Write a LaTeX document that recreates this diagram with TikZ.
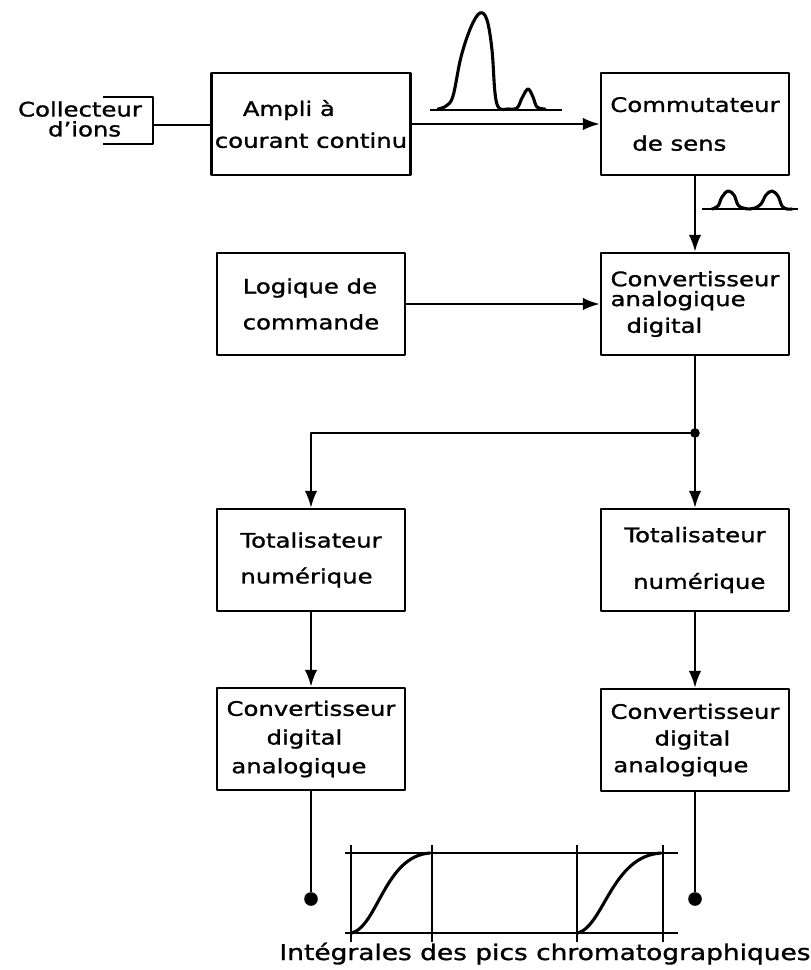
\documentclass[tikz,border=0pt]{standalone}
\usepackage{fontspec}
\setmainfont[FakeStretch=1.22, FakeBold=1.3]{DejaVu Sans}
\usetikzlibrary{arrows.meta}
\newcommand{\lettre}{\fontsize{14.2}{17}\selectfont}

\begin{document}
\begin{tikzpicture}[x=0.25mm, y=-0.25mm, line join=round,
  box/.style={draw, line width=1.8pt, minimum width=47mm, minimum height=25.5mm, inner xsep=0.8mm, align=left, font=\lettre},
  lien/.style={line width=1.5pt},
  fleche/.style={lien, -{Latex[length=4.2mm, width=3.1mm]}},
  courbe/.style={line width=2.2pt, line cap=round},
  trait/.style={line width=1pt},
  point/.style={circle, fill, inner sep=0pt, minimum size=3.4mm}]
  \useasboundingbox (0,0) rectangle (811,970);

  % entree
  \node[font=\lettre, align=left, inner sep=0pt] (ions) at (80,119) {Collecteur\\[-1mm]\hspace*{7.5mm}d'ions};
  \draw[lien, line width=1.8pt] (103,97) -| (153,144) -- (103,144);
  \coordinate (ionsport) at (153,125);

  \node[box] (ampli) at (311,124) {\hspace*{7mm}Ampli à\\[2mm]courant continu};
  \node[box] (commut) at (695,124) {Commutateur\\[3.7mm]\hspace*{5.5mm}de sens};
  \node[box] (logique) at (311,304) {Logique de\\[3mm]commande};
  \node[box] (adc) at (695,304) {Convertisseur\\[-1mm]analogique\\[0.7mm]\hspace*{4mm}digital};
  \node[box] (totg) at (311,560) {Totalisateur\\[3mm]numérique};
  \node[box] (totd) at (695,560) {Totalisateur\\[5.7mm]\hspace*{2.2mm}numérique};
  \node[box] (cdag) at (311,739) {Convertisseur\\[1.2mm]\hspace*{10mm}digital\\[1.2mm]\hspace*{1.2mm}analogique};
  \node[box] (cdad) at (695,740) {Convertisseur\\[0.7mm]\hspace*{11mm}digital\\[0.7mm]\hspace*{0.7mm}analogique};

  \draw[lien] (ionsport) -- (ionsport -| ampli.west);
  \draw[fleche] (ampli) -- (commut);
  \draw[fleche] (commut) -- (adc);
  \draw[fleche] (logique) -- (adc);

  % distribution
  \coordinate (jonction) at (695,433);
  \draw[lien] (adc) -- (jonction);
  \node[point, minimum size=2.4mm] (jpt) at (jonction) {};
  \draw[fleche] (jonction) -- (totd);
  \draw[fleche] (jonction) -| (totg);
  \draw[fleche] (totg) -- (cdag);
  \draw[fleche] (totd) -- (cdad);

  \node[point] (sortieg) at (311,899) {};
  \node[point] (sortied) at (695,899) {};
  \draw[lien] (cdag) -- (sortieg);
  \draw[lien] (cdad) -- (sortied);

  % pics chromatographiques
  \draw[trait] (430,110) -- (562,110);
  \draw[courbe] plot[smooth, tension=0.6] coordinates {(438,109) (446,106) (453,96) (461,57) (471,27) (480,13) (487,20) (492,50) (495,93) (499,108) (508,109) (517,108) (522,98) (528,89) (533,97) (537,107) (545,109)};
  \draw[trait] (702,209) -- (798,209);
  \draw[courbe] plot[smooth, tension=0.6] coordinates {(712,209) (718,206) (722,197) (728,191) (734,195) (738,205) (743,208) (750,209) (755,208) (761,204) (766,195) (772,191) (778,196) (782,206) (787,209) (792,209)};

  % integrales
  \draw[trait] (345,853) -- (678,853);
  \draw[trait] (345,933) -- (678,933);
  \foreach \xv in {351,432,577,663}
    \draw[trait] (\xv,845) -- (\xv,942);
  \draw[courbe] (352,933) .. controls (378,925) and (385,856) .. (430,853);
  \draw[courbe] (578,933) .. controls (604,925) and (612,856) .. (661,853);
  \node[font=\fontsize{15.4}{18}\selectfont, anchor=base, inner sep=0pt] (legende) at (545,960) {Intégrales des pics chromatographiques};
\end{tikzpicture}
\end{document}
